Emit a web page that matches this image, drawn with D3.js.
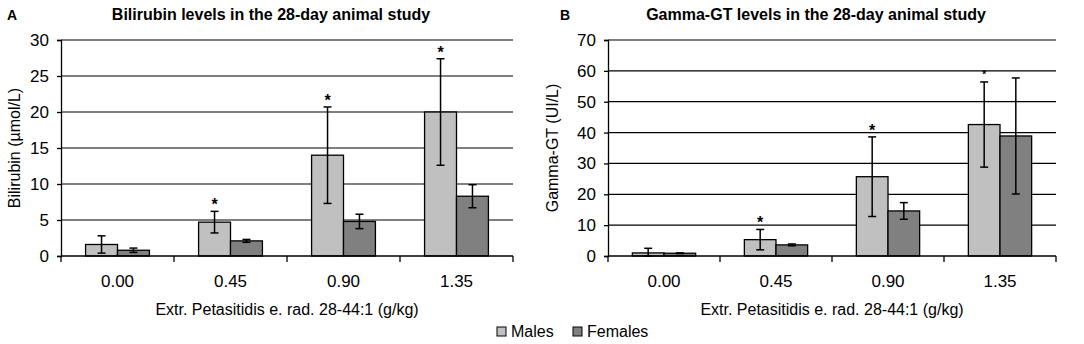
<!DOCTYPE html>
<html>
<head>
<meta charset="utf-8">
<script src="https://cdn.jsdelivr.net/npm/d3@7"></script>
<style>
body { margin: 0; background: #fff; }
svg { display: block; font-family: "Liberation Sans", Arial, sans-serif; }
</style>
</head>
<body>
<div id="chart"></div>
<script>
var doses = ['0.00', '0.45', '0.90', '1.35']
var series = ['Males', 'Females']

var biliMales = [1.6, 4.7, 14.0, 20.0]
var biliMalesErr = [1.2, 1.5, 6.7, 7.4]
var biliFemales = [0.8, 2.1, 4.8, 8.3]
var biliFemalesErr = [0.3, 0.2, 1.0, 1.6]
var biliStars = ['', '*', '*', '*']
var biliTicks = [0, 5, 10, 15, 20, 25, 30]

var ggtMales = [1.0, 5.3, 25.7, 42.6]
var ggtMalesErr = [1.5, 3.3, 12.9, 13.8]
var ggtFemales = [0.9, 3.6, 14.6, 38.9]
var ggtFemalesErr = [0.1, 0.3, 2.7, 18.8]
var ggtStars = ['', '*', '*', '*']
var ggtTicks = [0, 10, 20, 30, 40, 50, 60, 70]

var colors = {Males: '#c0c0c0', Females: '#808080'}

var svg = d3.select('#chart').append('svg').attr('width', 1084).attr('height', 344)

function panel(o){
  var g = svg.append('g')
  var x = d3.scaleBand().domain(doses).range([o.left, o.right])
  var xs = d3.scaleBand().domain(series).range([0, x.bandwidth()]).paddingOuter(0.77)
  var y = d3.scaleLinear().domain([0, d3.max(o.ticks)]).range([256, 40])

  // gridlines
  g.selectAll('line.grid').data(o.ticks.slice(1)).join('line')
    .attr('x1', o.left).attr('x2', o.right)
    .attr('y1', y).attr('y2', y)
    .attr('stroke', '#000').attr('stroke-width', 1.2)

  var yAxis = g.append('g').attr('transform', 'translate(' + o.left + ',0)')
    .call(d3.axisLeft(y).tickValues(o.ticks).tickSize(4).tickPadding(8))
  yAxis.selectAll('text').attr('font-size', 17).attr('fill', '#000')
  yAxis.selectAll('line, path').attr('stroke', '#000').attr('stroke-width', 1.3)

  var rows = []
  doses.forEach(function(d, i){
    rows.push({dose: d, s: 'Males', v: o.males[i], e: o.malesErr[i], star: o.stars[i], i: i})
    rows.push({dose: d, s: 'Females', v: o.females[i], e: o.femalesErr[i], star: '', i: i})
  })

  var cx = function(d){ return x(d.dose) + xs(d.s) + xs.bandwidth() / 2 }

  g.selectAll('rect.bar').data(rows).join('rect')
    .attr('x', function(d){ return x(d.dose) + xs(d.s) })
    .attr('width', xs.bandwidth())
    .attr('y', function(d){ return y(d.v) })
    .attr('height', function(d){ return y(0) - y(d.v) })
    .attr('fill', function(d){ return colors[d.s] })
    .attr('stroke', '#000').attr('stroke-width', 1.3)

  var eb = g.selectAll('g.err').data(rows).join('g')
  eb.append('line')
    .attr('x1', cx).attr('x2', cx)
    .attr('y1', function(d){ return y(d.v + d.e) })
    .attr('y2', function(d){ return y(Math.max(0, d.v - d.e)) })
  eb.append('line')
    .attr('x1', function(d){ return cx(d) - 4 }).attr('x2', function(d){ return cx(d) + 4 })
    .attr('y1', function(d){ return y(d.v + d.e) }).attr('y2', function(d){ return y(d.v + d.e) })
  eb.append('line')
    .attr('x1', function(d){ return cx(d) - 4 }).attr('x2', function(d){ return cx(d) + 4 })
    .attr('y1', function(d){ return y(Math.max(0, d.v - d.e)) }).attr('y2', function(d){ return y(Math.max(0, d.v - d.e)) })
  eb.selectAll('line').attr('stroke', '#000').attr('stroke-width', 1.5)

  g.selectAll('text.star').data(rows.filter(function(d){ return d.star })).join('text')
    .attr('x', cx)
    .attr('y', function(d){ return y(d.v + d.e) - (o.smallStar == d.i ? 4 : 1) })
    .attr('text-anchor', 'middle')
    .attr('font-size', function(d){ return o.smallStar == d.i ? 10 : 16 })
    .attr('font-weight', 'bold')
    .text(function(d){ return d.star })

  // x axis with ticks at band boundaries
  g.append('line').attr('x1', o.left).attr('x2', o.right).attr('y1', y(0)).attr('y2', y(0))
    .attr('stroke', '#000').attr('stroke-width', 1.3)
  var bounds = doses.map(function(d){ return x(d) }).concat([o.right])
  g.selectAll('line.xt').data(bounds).join('line')
    .attr('x1', function(d){ return d }).attr('x2', function(d){ return d })
    .attr('y1', y(0)).attr('y2', y(0) + 6)
    .attr('stroke', '#000').attr('stroke-width', 1.3)
  g.selectAll('text.xl').data(doses).join('text')
    .attr('x', function(d){ return x(d) + x.bandwidth() / 2 })
    .attr('y', 287)
    .attr('text-anchor', 'middle').attr('font-size', 17)
    .text(function(d){ return d })

  g.append('text').attr('x', (o.left + o.right) / 2).attr('y', 315)
    .attr('text-anchor', 'middle').attr('font-size', 16)
    .text('Extr. Petasitidis e. rad. 28-44:1 (g/kg)')

  g.append('text')
    .attr('transform', 'translate(' + o.yTitleX + ',' + (y.range()[0] + y.range()[1]) / 2 + ') rotate(-90)')
    .attr('text-anchor', 'middle').attr('font-size', 16)
    .text(o.yTitle)

  g.append('text').attr('x', o.titleX).attr('y', 20)
    .attr('text-anchor', 'middle').attr('font-size', 16).attr('font-weight', 'bold')
    .text(o.title)
  g.append('text').attr('x', o.letterX).attr('y', 20)
    .attr('font-size', 14).attr('font-weight', 'bold')
    .text(o.letter)
}

panel({
  left: 61, right: 513, ticks: biliTicks,
  males: biliMales, malesErr: biliMalesErr, females: biliFemales, femalesErr: biliFemalesErr,
  stars: biliStars, smallStar: -1,
  title: 'Bilirubin levels in the 28-day animal study', titleX: 271,
  letter: 'A', letterX: 7,
  yTitle: 'Bilirubin (µmol/L)', yTitleX: 20
})

panel({
  left: 608, right: 1056, ticks: ggtTicks,
  males: ggtMales, malesErr: ggtMalesErr, females: ggtFemales, femalesErr: ggtFemalesErr,
  stars: ggtStars, smallStar: 3,
  title: 'Gamma-GT levels in the 28-day animal study', titleX: 816,
  letter: 'B', letterX: 560,
  yTitle: 'Gamma-GT (UI/L)', yTitleX: 558
})

// legend
var leg = svg.append('g').selectAll('g').data(series).join('g')
  .attr('transform', function(d, i){ return 'translate(' + (497 + i * 76) + ',327)' })
leg.append('rect').attr('width', 9).attr('height', 9)
  .attr('fill', function(d){ return colors[d] }).attr('stroke', '#000').attr('stroke-width', 1)
leg.append('text').attr('x', 14).attr('y', 10).attr('font-size', 16).text(function(d){ return d })
</script>
</body>
</html>
